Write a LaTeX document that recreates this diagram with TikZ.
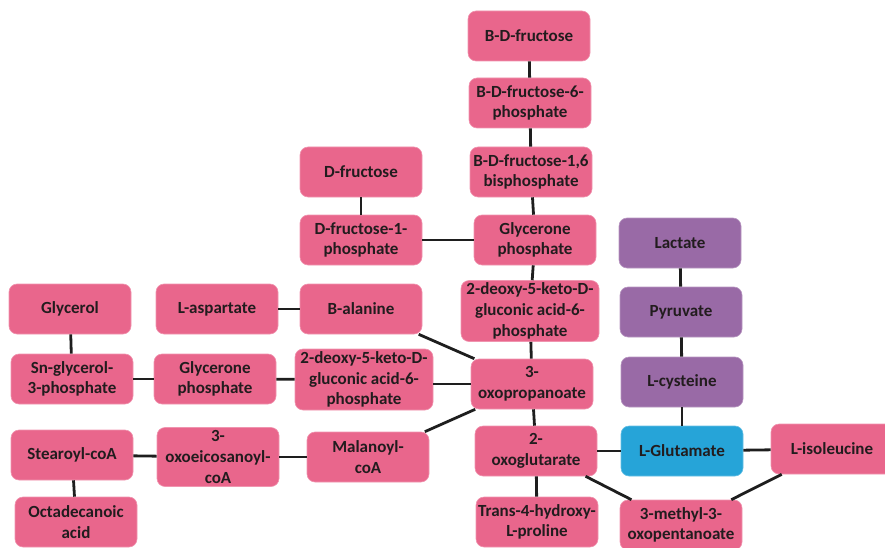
\documentclass[tikz,border=0pt]{standalone}
\usepackage{fontspec}
\setmainfont{Carlito}
\usepackage{xcolor}
\usepackage{tikz}
\usetikzlibrary{positioning, calc}

\definecolor{pinkbox}{RGB}{233,102,140}
\definecolor{purplebox}{RGB}{153,106,166}
\definecolor{bluebox}{RGB}{38,164,216}
\definecolor{boxtext}{RGB}{34,28,30}
\definecolor{linkcol}{RGB}{30,30,30}

\begin{document}
\begin{tikzpicture}[x=1pt, y=-1pt,
    box/.style={rectangle, rounded corners=8pt, fill=pinkbox, draw=pinkbox!70!white, line width=0.6pt,
      minimum width=122pt, minimum height=50pt, inner sep=1pt, align=center, text=boxtext,
      font=\bfseries\fontsize{17}{20.7}\selectfont},
    purplebox/.style={box, fill=purplebox, draw=purplebox!70!white},
    bluebox/.style={box, fill=bluebox, draw=bluebox!70!white},
    widebox/.style={box, minimum width=138pt, minimum height=61pt},
    link/.style={line width=2.8pt, draw=linkcol}]
        \useasboundingbox (0,0) rectangle (885,548);
        \clip (0,0) rectangle (885,548);

        % Nodes
        \node[box] (fru) at (529,36) {B-D-fructose};
        \node[box] (fru6p) at (530,103) {B-D-fructose-6-\\phosphate};
        \node[box] (fru16bp) at (531,172) {B-D-fructose-1,6\\bisphosphate};
        \node[box] (dfru) at (361,172) {D-fructose};
        \node[box] (dfru1p) at (361,240) {D-fructose-1-\\phosphate};
        \node[box] (glyp) at (535,240) {Glycerone\\phosphate};
        \node[widebox] (dkg) at (530,311) {2-deoxy-5-keto-D-\\gluconic acid-6-\\phosphate};
        \node[box] (oxp) at (532,384) {3-\\oxopropanoate};
        \node[box] (oxog) at (536,451) {2-\\oxoglutarate};
        \node[box] (hyp) at (537,522) {Trans-4-hydroxy-\\L-proline};

        \node[purplebox] (lac) at (680,243) {Lactate};
        \node[purplebox] (pyr) at (681,312) {Pyruvate};
        \node[purplebox] (cys) at (682,382) {L-cysteine};
        \node[bluebox] (glu) at (682,451) {L-Glutamate};
        \node[box] (ile) at (832,449) {L-isoleucine};
        \node[box] (meth) at (681,525) {3-methyl-3-\\oxopentanoate};

        \node[box] (glyc) at (70,309) {Glycerol};
        \node[box] (asp) at (217,309) {L-aspartate};
        \node[box] (bala) at (361,309) {B-alanine};
        \node[box] (sng) at (72,379) {Sn-glycerol-\\3-phosphate};
        \node[box] (glyp2) at (215,379) {Glycerone\\phosphate};
        \node[widebox] (dkg2) at (364,379.5) {2-deoxy-5-keto-D-\\gluconic acid-6-\\phosphate};
        \node[box] (ste) at (72,455) {Stearoyl-coA};
        \node[box, minimum height=59pt] (eico) at (218,457) {3-\\oxoeicosanoyl-\\coA};
        \node[box] (mal) at (368,457) {Malanoyl-\\coA};
        \node[box] (oct) at (76,522) {Octadecanoic\\acid};

        % Links
        \draw[link] (fru) -- (fru6p);
        \draw[link] (fru6p) -- (fru16bp);
        \draw[link] (fru16bp) -- (glyp);
        \draw[link] (dfru) -- (dfru1p);
        \draw[link] (dfru1p) -- (glyp);
        \draw[link] (glyp) -- (dkg);
        \draw[link] (dkg) -- (oxp);
        \draw[link] (bala) -- (oxp);
        \draw[link] (dkg2.east |- oxp.west) -- (oxp.west);
        \draw[link] (mal) -- (oxp);
        \draw[link] (oxp) -- (oxog);
        \draw[link] (oxog) -- (hyp);
        \draw[link] (oxog) -- (glu);
        \draw[link] (oxog) -- (meth);
        \draw[link] (glu) -- (ile);
        \draw[link] (ile) -- (meth);
        \draw[link] (glu) -- (cys);
        \draw[link] (cys) -- (pyr);
        \draw[link] (pyr) -- (lac);
        \draw[link] (asp) -- (bala);
        \draw[link] (glyc) -- (sng);
        \draw[link] (sng) -- (glyp2);
        \draw[link] (glyp2) -- (dkg2);
        \draw[link] (ste) -- (eico);
        \draw[link] (eico) -- (mal);
        \draw[link] (ste) -- (oct);
      \end{tikzpicture}
\end{document}
